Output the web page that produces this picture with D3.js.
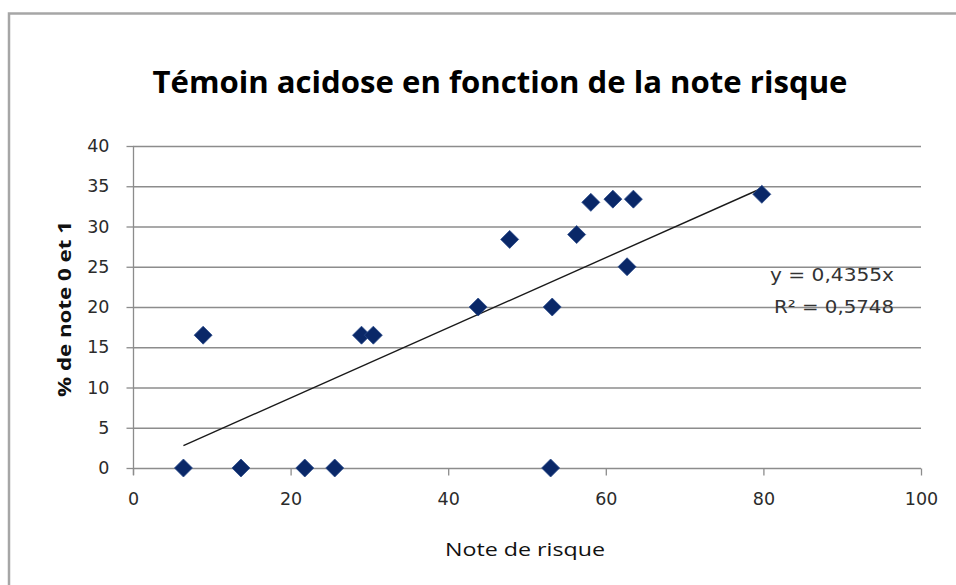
<!DOCTYPE html>
<html>
<head>
<meta charset="utf-8">
<script src="https://cdn.jsdelivr.net/npm/d3@7/dist/d3.min.js"></script>
<style>
  html, body { margin: 0; padding: 0; background: #fff; }
  svg { display: block; }
</style>
</head>
<body>
<svg id="chart" width="956" height="585"></svg>
<script>
// ---- Data ----
const noteRisque = [6.4, 8.9, 13.7, 21.8, 25.6, 29.0, 30.5, 43.8, 47.8, 53.0, 53.2, 56.3, 58.1, 60.9, 62.7, 63.5, 79.8];
const pctNote01  = [0, 16.5, 0, 0, 0, 16.5, 16.5, 20, 28.4, 0, 20, 29, 33, 33.4, 25, 33.4, 34];
const trendSlope = 0.4355;
const trendR2 = 0.5748;
const xTicks = [0, 20, 40, 60, 80, 100];
const yTicks = [0, 5, 10, 15, 20, 25, 30, 35, 40];
const titleText = "Témoin acidose en fonction de la note risque";
const xLabel = "Note de risque";
const yLabel = "% de note 0 et 1";
const eqLine1 = "y = 0,4355x";
const eqLine2 = "R² = 0,5748";

// ---- Layout ----
const svg = d3.select("#chart");
const x = d3.scaleLinear().domain([0, 100]).range([133, 921]);
const y = d3.scaleLinear().domain([0, 40]).range([468, 146]);
const grey = "#8c8c8c";
const fontMain = "'Open Sans', 'DejaVu Sans', sans-serif";
const fontTick = "'DejaVu Sans', sans-serif";

function fit(sel, w) {
  sel.attr("textLength", w).attr("lengthAdjust", "spacingAndGlyphs");
}

// chart area border
svg.append("rect")
  .attr("x", 9).attr("y", 13.5)
  .attr("width", 1000).attr("height", 700)
  .attr("fill", "#fff")
  .attr("stroke", "#a6a6a6").attr("stroke-width", 2.5);

// title
svg.append("text")
  .attr("x", 500).attr("y", 93)
  .attr("text-anchor", "middle")
  .attr("font-family", fontMain)
  .attr("font-weight", "bold")
  .attr("font-size", 30)
  .attr("fill", "#000")
  .text(titleText)
  .call(fit, 695);

// gridlines
svg.append("g").selectAll("line")
  .data(yTicks.filter(d => d !== 0))
  .join("line")
  .attr("x1", x(0)).attr("x2", x(100))
  .attr("y1", d => y(d) + 0.5).attr("y2", d => y(d) + 0.5)
  .attr("stroke", grey).attr("stroke-width", 1.3);

// Y axis
const yAxis = d3.axisLeft(y).tickValues(yTicks).tickSize(7).tickPadding(16)
  .tickFormat(d3.format("d"));
const gy = svg.append("g")
  .attr("transform", `translate(${x(0) + 0.5},0)`)
  .call(yAxis);
gy.select(".domain").remove();
gy.selectAll(".tick line").attr("stroke", grey).attr("stroke-width", 1.3);
gy.selectAll(".tick text")
  .attr("font-family", fontTick)
  .attr("font-size", 17.5)
  .attr("fill", "#2b2b2b")
  .attr("x", -24);
gy.append("line")
  .attr("x1", 0).attr("x2", 0)
  .attr("y1", y(40)).attr("y2", y(0) + 7)
  .attr("stroke", grey).attr("stroke-width", 1.3);

// X axis
const xAxis = d3.axisBottom(x).tickValues(xTicks).tickSize(7).tickPadding(17)
  .tickFormat(d3.format("d"));
const gx = svg.append("g")
  .attr("transform", `translate(0,${y(0) + 0.5})`)
  .call(xAxis);
gx.select(".domain").attr("d", `M${x(0)},0H${x(100)}`).attr("stroke", grey).attr("stroke-width", 1.3);
gx.selectAll(".tick line").attr("stroke", grey).attr("stroke-width", 1.3);
gx.selectAll(".tick text")
  .attr("font-family", fontTick)
  .attr("font-size", 17.5)
  .attr("fill", "#2b2b2b");

// axis titles
svg.append("text")
  .attr("x", 525).attr("y", 556)
  .attr("text-anchor", "middle")
  .attr("font-family", fontMain)
  .attr("font-size", 18.5)
  .attr("fill", "#111")
  .text(xLabel)
  .call(fit, 160);

svg.append("text")
  .attr("transform", `translate(71,309) rotate(-90)`)
  .attr("text-anchor", "middle")
  .attr("font-family", fontMain)
  .attr("font-weight", "bold")
  .attr("font-size", 18)
  .attr("fill", "#111")
  .text(yLabel)
  .call(fit, 176);

// trend line (through origin) over data range
const xMin = d3.min(noteRisque), xMax = d3.max(noteRisque);
svg.append("line")
  .attr("x1", x(xMin)).attr("y1", y(trendSlope * xMin))
  .attr("x2", x(xMax)).attr("y2", y(trendSlope * xMax))
  .attr("stroke", "#1a1a1a").attr("stroke-width", 1.4);

// points (diamonds)
const pts = noteRisque.map((v, i) => ({ x: v, y: pctNote01[i] }));
const r = 9;
svg.append("g").selectAll("path")
  .data(pts)
  .join("path")
  .attr("transform", d => `translate(${x(d.x)},${y(d.y)})`)
  .attr("d", `M0,${-r}L${r},0L0,${r}L${-r},0Z`)
  .attr("fill", "#0a2868")
  .attr("stroke", "#2a4a8a").attr("stroke-width", 0.8);

// equation labels
svg.append("text")
  .attr("x", 894).attr("y", 281)
  .attr("text-anchor", "end")
  .attr("font-family", fontTick)
  .attr("font-size", 17.5)
  .attr("fill", "#333")
  .text(eqLine1)
  .call(fit, 124);
svg.append("text")
  .attr("x", 894).attr("y", 313)
  .attr("text-anchor", "end")
  .attr("font-family", fontTick)
  .attr("font-size", 17.5)
  .attr("fill", "#333")
  .text(eqLine2)
  .call(fit, 120);
</script>
</body>
</html>
